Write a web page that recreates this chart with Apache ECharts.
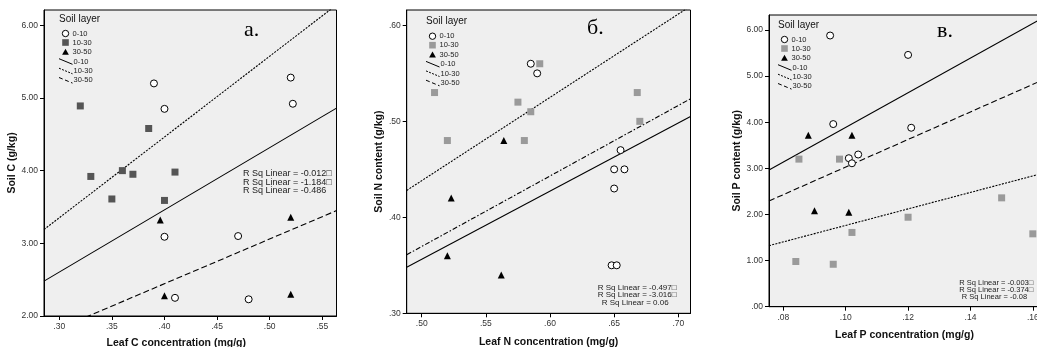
<!DOCTYPE html>
<html><head><meta charset="utf-8">
<script src="https://cdn.jsdelivr.net/npm/echarts@6/dist/echarts.min.js"></script>
<style>html,body{margin:0;padding:0;background:#fff}#c{width:1037px;height:347px}</style>
</head><body><div id="c"></div><script>
// ---------- DATA ----------
const layers = ['0-10', '10-30', '30-50'];
const panelLetters = ['a.', 'б.', 'в.'];
const xTitles = ['Leaf C concentration (mg/g)', 'Leaf N concentration (mg/g)', 'Leaf P concentration (mg/g)'];
const yTitles = ['Soil C (g/kg)', 'Soil N content (g/kg)', 'Soil P content (g/kg)'];

// Panel a (C)
const aLayer1 = [[0.39,5.20],[0.40,4.85],[0.52,5.28],[0.522,4.92],[0.40,3.09],[0.47,3.10],[0.41,2.25],[0.48,2.23]];
const aLayer2 = [[0.32,4.89],[0.385,4.58],[0.36,4.00],[0.33,3.92],[0.37,3.95],[0.41,3.98],[0.35,3.61],[0.40,3.59]];
const aLayer3 = [[0.396,3.32],[0.52,3.36],[0.40,2.28],[0.52,2.30]];
const aFit1 = [[0.2855,2.48],[0.5635,4.86]];
const aFit2 = [[0.2855,3.19],[0.5635,6.28]];
const aFit3 = [[0.2855,1.74],[0.5635,3.45]];
const aXTicks = [0.30,0.35,0.40,0.45,0.50,0.55];
const aYTicks = [2,3,4,5,6];
const aRsq = ['R Sq Linear = -0.012□','R Sq Linear = -1.184□','R Sq Linear = -0.486'];

// Panel б (N)
const bLayer1 = [[0.585,0.56],[0.59,0.55],[0.655,0.47],[0.65,0.45],[0.658,0.45],[0.65,0.43],[0.648,0.35],[0.652,0.35]];
const bLayer2 = [[0.592,0.56],[0.51,0.53],[0.575,0.52],[0.585,0.51],[0.668,0.53],[0.67,0.50],[0.52,0.48],[0.58,0.48]];
const bLayer3 = [[0.564,0.48],[0.523,0.42],[0.52,0.36],[0.562,0.34]];
const bFit1 = [[0.4883,0.348],[0.7095,0.505]];
const bFit2 = [[0.4883,0.428],[0.7095,0.620]];
const bFit3 = [[0.4883,0.361],[0.7095,0.5235]];
const bXTicks = [0.50,0.55,0.60,0.65,0.70];
const bYTicks = [0.30,0.40,0.50,0.60];
const bRsq = ['R Sq Linear = -0.497□','R Sq Linear = -3.016□','R Sq Linear = 0.06'];

// Panel в (P)
const cLayer1 = [[0.095,5.88],[0.12,5.46],[0.096,3.96],[0.121,3.88],[0.101,3.22],[0.102,3.11],[0.104,3.30]];
const cLayer2 = [[0.085,3.20],[0.098,3.20],[0.15,2.36],[0.12,1.94],[0.102,1.61],[0.16,1.58],[0.084,0.98],[0.096,0.92]];
const cLayer3 = [[0.088,3.72],[0.102,3.72],[0.09,2.08],[0.101,2.05]];
const cFit1 = [[0.0754,2.965],[0.1623,6.23]];
const cFit2 = [[0.0754,1.323],[0.1623,2.877]];
const cFit3 = [[0.0754,2.293],[0.1623,4.89]];
const cXTicks = [0.08,0.10,0.12,0.14,0.16];
const cYTicks = [0,1,2,3,4,5,6];
const cRsq = ['R Sq Linear = -0.003□','R Sq Linear = -0.374□','R Sq Linear = -0.08'];

// ---------- LAYOUT / STYLE ----------
const SANS = 'Liberation Sans, Arial, sans-serif';
const SERIF = 'Liberation Serif, Times New Roman, serif';
const panels = [
  {grid:{left:44, top:10, width:292.5, height:306}, xr:[0.2855,0.5635], yr:[2,6.21], xt:aXTicks, yt:aYTicks,
   pts:[aLayer1,aLayer2,aLayer3], fits:[aFit1,aFit2,aFit3], sq:'#555555', rsq:aRsq,
   rsqPos:{x:243, y:[174,182.5,191], ind:[0,0,0], fs:9}, leg:[59,19], letter:[244,30],
   yGap:18, xGap:22, xPad:[0,28,0,0], dash3:[6,3]},
  {grid:{left:406.7, top:10, width:283.8, height:303.3}, xr:[0.4883,0.7095], yr:[0.30,0.616], xt:bXTicks, yt:bYTicks,
   pts:[bLayer1,bLayer2,bLayer3], fits:[bFit1,bFit2,bFit3], sq:'#9a9a9a', rsq:bRsq,
   rsqPos:{x:597.7, y:[287.3,295,302.7], ind:[0,0,4], fs:8}, leg:[426,21.7], letter:[587,28],
   yGap:19.5, xGap:23, xPad:[0,0,0,0], dash3:[5,2,1.5,2]},
  {grid:{left:769, top:15, width:271, height:291.7}, xr:[0.0754,0.1623], yr:[0,6.325], xt:cXTicks, yt:cYTicks,
   pts:[cLayer1,cLayer2,cLayer3], fits:[cFit1,cFit2,cFit3], sq:'#9a9a9a', rsq:cRsq,
   rsqPos:{x:959.3, y:[283.3,290,297], ind:[0,0,2.5], fs:7.5}, leg:[778,25], letter:[937,31],
   yGap:24, xGap:23, xPad:[0,0,0,0], dash3:[6,3]}
];

function fmt(v){ return v.toFixed(2).replace(/^0\./,'.'); }

const grids=[], xAxes=[], yAxes=[], series=[], graphics=[];
panels.forEach((p,i)=>{
  grids.push(Object.assign({show:true, backgroundColor:'#efefef', borderColor:'#000', borderWidth:1,
    containLabel:false, outerBoundsMode:'none'}, p.grid));
  const axCommon = {type:'value', splitLine:{show:false},
    axisLine:{show:true, onZero:false, lineStyle:{color:'#000', width:1}},
    nameLocation:'middle'};
  xAxes.push(Object.assign({}, axCommon, {gridIndex:i, min:p.xr[0], max:p.xr[1],
    axisTick:{show:true, length:4, customValues:p.xt, lineStyle:{color:'#000'}},
    axisLabel:{customValues:p.xt, formatter:fmt, fontSize:8.5, color:'#333', margin:6, fontFamily:SANS},
    name:xTitles[i], nameGap:p.xGap,
    nameTextStyle:{fontWeight:'bold', fontSize:10.5, color:'#111', fontFamily:SANS, padding:p.xPad}}));
  yAxes.push(Object.assign({}, axCommon, {gridIndex:i, min:p.yr[0], max:p.yr[1],
    axisTick:{show:true, length:4, customValues:p.yt, lineStyle:{color:'#000'}},
    axisLabel:{customValues:p.yt, formatter:fmt, fontSize:8.5, color:'#333', margin:6, fontFamily:SANS},
    name:yTitles[i], nameGap:p.yGap, nameRotate:90,
    nameTextStyle:{fontWeight:'bold', fontSize:10.5, color:'#111', fontFamily:SANS}}));
  const dashes = ['solid', [2,1.3], p.dash3];
  p.fits.forEach((f,k)=>{
    series.push({type:'line', name:layers[k]+' fit', xAxisIndex:i, yAxisIndex:i, data:f,
      symbol:'none', showSymbol:false, clip:true, silent:true, z:2,
      lineStyle:{color:'#000', width:1.1, type:dashes[k]}});
  });
  series.push({type:'scatter', name:layers[0], xAxisIndex:i, yAxisIndex:i, data:p.pts[0], symbol:'circle', symbolSize:7, z:5,
    itemStyle:{color:'#ffffff', borderColor:'#000', borderWidth:1, opacity:1}});
  series.push({type:'scatter', name:layers[1], xAxisIndex:i, yAxisIndex:i, data:p.pts[1], symbol:'rect', symbolSize:7, z:5,
    itemStyle:{color:p.sq, opacity:1}});
  series.push({type:'scatter', name:layers[2], xAxisIndex:i, yAxisIndex:i, data:p.pts[2], symbol:'triangle', symbolSize:7, z:5,
    itemStyle:{color:'#000', opacity:1}});

  // panel letter
  graphics.push({type:'text', x:p.letter[0], y:p.letter[1], z:100,
    style:{text:panelLetters[i], font:'22px '+SERIF, fill:'#000', verticalAlign:'middle'}});
  // legend
  const lx=p.leg[0], ly=p.leg[1];
  graphics.push({type:'text', x:lx, y:ly, z:100, style:{text:'Soil layer', font:'10px '+SANS, fill:'#111', verticalAlign:'middle'}});
  const rows=[14.5,23.5,33,42.5,52,61.3];
  const cx=lx+6.5, tx=lx+13.5;
  graphics.push({type:'circle', z:100, shape:{cx:cx, cy:ly+rows[0], r:3.2}, style:{fill:'#fff', stroke:'#000', lineWidth:1}});
  graphics.push({type:'rect', z:100, shape:{x:cx-3.3, y:ly+rows[1]-3.3, width:6.6, height:6.6}, style:{fill:p.sq}});
  graphics.push({type:'polygon', z:100, shape:{points:[[cx,ly+rows[2]-3.3],[cx+3.4,ly+rows[2]+2.7],[cx-3.4,ly+rows[2]+2.7]]}, style:{fill:'#000'}});
  const ldash=[null,[2,1.3],[4,2.5]];
  for(let k=0;k<3;k++){
    const yy=ly+rows[3+k];
    graphics.push({type:'line', z:100, shape:{x1:lx, y1:yy-2.8, x2:lx+13.5, y2:yy+2.8},
      style:{stroke:'#000', lineWidth:1, lineDash:ldash[k]}});
  }
  for(let k=0;k<6;k++){
    graphics.push({type:'text', x:tx+(k>=3?1:0), y:ly+rows[k], z:100,
      style:{text:layers[k%3], font:'7.5px '+SANS, fill:'#222', verticalAlign:'middle'}});
  }
  // R Sq texts
  p.rsq.forEach((t,k)=>{
    graphics.push({type:'text', x:p.rsqPos.x+p.rsqPos.ind[k], y:p.rsqPos.y[k], z:100,
      style:{text:t, font:p.rsqPos.fs+'px '+SANS, fill:'#222', verticalAlign:'middle'}});
  });
});

const chart = echarts.init(document.getElementById('c'), null, {renderer:'canvas'});
chart.setOption({
  animation:false, backgroundColor:'#fff',
  grid:grids, xAxis:xAxes, yAxis:yAxes, series:series, graphic:graphics
});
</script></body></html>
